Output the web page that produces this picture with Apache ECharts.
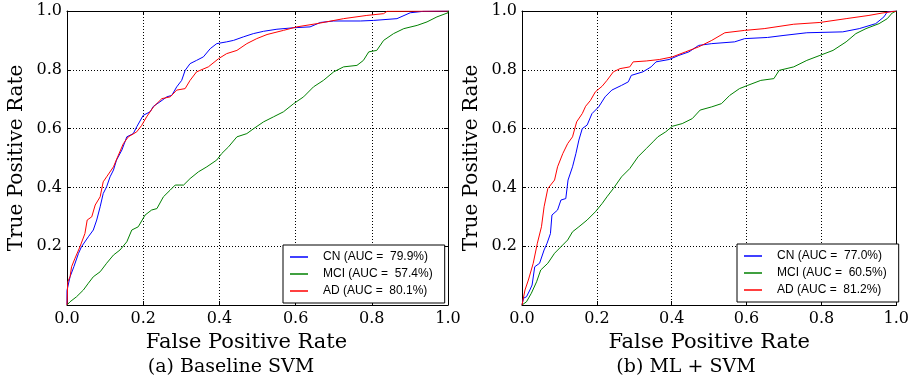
<!DOCTYPE html>
<html><head><meta charset="utf-8">
<script src="https://cdn.jsdelivr.net/npm/echarts@6/dist/echarts.min.js"></script>
<style>html,body{margin:0;padding:0;background:#fff}#c{width:912px;height:384px}</style>
</head><body><div id="c"></div>
<script>
// ---- Data ----
var tickValues = [0, 0.2, 0.4, 0.6, 0.8, 1.0];
var captions = ['(a) Baseline SVM', '(b) ML + SVM'];
var classNames = ['CN', 'MCI', 'AD'];
var aucA = ['79.9%', '57.4%', '80.1%'];
var aucB = ['77.0%', '60.5%', '81.2%'];

// Panel (a) Baseline SVM
var aCnFpr = [0,0,0.008,0.018,0.03,0.038,0.056,0.069,0.078,0.087,0.095,0.104,0.113,0.122,0.13,0.144,0.157,0.174,0.183,0.2,0.218,0.227,0.244,0.262,0.275,0.288,0.301,0.31,0.323,0.34,0.358,0.376,0.393,0.419,0.437,0.463,0.489,0.516,0.551,0.595,0.638,0.665,0.7,0.77,0.805,0.866,0.901,0.936,1.0];
var aCnTpr = [0,0.05,0.096,0.13,0.175,0.198,0.232,0.255,0.289,0.334,0.379,0.402,0.436,0.459,0.493,0.527,0.572,0.583,0.606,0.645,0.657,0.676,0.691,0.708,0.713,0.742,0.764,0.798,0.821,0.832,0.844,0.872,0.889,0.895,0.9,0.912,0.923,0.931,0.938,0.943,0.946,0.961,0.966,0.966,0.968,0.974,0.994,0.999,1.0];
var aMciFpr = [0,0.008,0.025,0.043,0.056,0.069,0.087,0.104,0.122,0.139,0.157,0.17,0.187,0.205,0.222,0.236,0.253,0.271,0.284,0.306,0.323,0.345,0.367,0.393,0.406,0.424,0.446,0.472,0.49,0.516,0.542,0.568,0.595,0.621,0.647,0.673,0.7,0.726,0.761,0.778,0.792,0.813,0.831,0.857,0.884,0.919,0.945,0.971,1.0,1.0];
var aMciTpr = [0,0.011,0.028,0.051,0.074,0.096,0.113,0.142,0.17,0.187,0.215,0.255,0.266,0.306,0.323,0.328,0.368,0.391,0.408,0.408,0.43,0.453,0.47,0.493,0.515,0.538,0.572,0.583,0.6,0.623,0.64,0.657,0.685,0.708,0.742,0.764,0.793,0.81,0.815,0.832,0.861,0.866,0.9,0.923,0.94,0.951,0.963,0.98,0.994,1.0];
var aAdFpr = [0,0.002,0.008,0.012,0.021,0.034,0.047,0.053,0.065,0.074,0.087,0.095,0.104,0.122,0.135,0.148,0.161,0.183,0.196,0.209,0.227,0.249,0.271,0.288,0.31,0.323,0.34,0.371,0.398,0.419,0.446,0.472,0.498,0.525,0.568,0.603,0.656,0.726,0.787,0.831,0.84,1.0];
var aAdTpr = [0,0.079,0.096,0.13,0.159,0.198,0.243,0.289,0.3,0.34,0.368,0.419,0.436,0.47,0.51,0.549,0.572,0.589,0.611,0.64,0.674,0.702,0.708,0.731,0.736,0.764,0.793,0.81,0.838,0.855,0.866,0.889,0.906,0.92,0.934,0.946,0.957,0.974,0.985,0.991,0.999,1.0];

// Panel (b) ML + SVM
var bCnFpr = [0,0.004,0.012,0.021,0.027,0.034,0.047,0.059,0.067,0.076,0.08,0.095,0.104,0.117,0.123,0.135,0.144,0.152,0.161,0.174,0.187,0.205,0.222,0.24,0.266,0.284,0.292,0.323,0.345,0.358,0.393,0.419,0.446,0.472,0.507,0.568,0.595,0.656,0.7,0.761,0.857,0.901,0.945,0.967,0.976,1.0];
var bCnTpr = [0,0.023,0.028,0.051,0.068,0.13,0.142,0.187,0.21,0.243,0.306,0.323,0.357,0.362,0.425,0.47,0.515,0.561,0.6,0.612,0.651,0.674,0.708,0.731,0.747,0.759,0.781,0.793,0.81,0.827,0.835,0.849,0.861,0.883,0.889,0.895,0.906,0.91,0.917,0.926,0.929,0.94,0.957,0.98,0.997,1.0];
var bMciFpr = [0,0.012,0.025,0.039,0.05,0.069,0.087,0.104,0.122,0.135,0.152,0.174,0.196,0.214,0.227,0.244,0.266,0.288,0.31,0.332,0.35,0.363,0.384,0.402,0.428,0.455,0.476,0.507,0.533,0.555,0.581,0.603,0.638,0.673,0.687,0.726,0.761,0.796,0.831,0.866,0.892,0.919,0.954,0.976,0.989,1.0];
var bMciTpr = [0,0.011,0.04,0.079,0.119,0.142,0.176,0.198,0.221,0.249,0.266,0.289,0.317,0.345,0.368,0.396,0.436,0.464,0.504,0.532,0.555,0.572,0.589,0.608,0.617,0.634,0.663,0.674,0.685,0.713,0.736,0.747,0.764,0.77,0.798,0.81,0.832,0.849,0.866,0.895,0.923,0.94,0.957,0.974,0.993,1.0];
var bAdFpr = [0,0.008,0.017,0.03,0.041,0.052,0.059,0.069,0.087,0.095,0.109,0.122,0.135,0.146,0.161,0.17,0.183,0.196,0.214,0.227,0.244,0.262,0.288,0.297,0.332,0.367,0.402,0.437,0.472,0.507,0.542,0.595,0.647,0.726,0.796,0.866,0.927,0.962,1.0];
var bAdTpr = [0,0.051,0.085,0.142,0.21,0.266,0.334,0.396,0.425,0.47,0.515,0.549,0.572,0.623,0.651,0.676,0.696,0.725,0.744,0.764,0.793,0.804,0.81,0.827,0.83,0.835,0.844,0.861,0.878,0.9,0.926,0.934,0.94,0.955,0.961,0.974,0.985,0.993,1.0];

var colors = ['#0000ff', '#008000', '#ff0000'];

function pairs(xs, ys) { return xs.map(function (x, i) { return [x, ys[i]]; }); }
function label(n, auc) { return n + ' (AUC =  ' + auc + ')'; }

var serifFont = 'DejaVu Serif';
var sansFont = 'Liberation Sans';

var grids = [
  { left: 67, top: 11, width: 381, height: 294 },
  { left: 522, top: 11, width: 381, height: 294 }
];

function mainX(gi) {
  return {
    type: 'value', gridIndex: gi, min: 0, max: 1, interval: 0.2,
    name: 'False Positive Rate', nameLocation: 'middle', nameGap: 22,
    nameTextStyle: { fontFamily: serifFont, fontSize: 21, color: '#000', verticalAlign: 'top',
      padding: gi === 0 ? [0, 22, 0, 0] : 0 },
    axisLine: { show: true, onZero: false, lineStyle: { color: '#000', width: 1 } },
    axisTick: { show: true, inside: true, length: 4, lineStyle: { color: '#000' } },
    axisLabel: { show: true, margin: 6, fontFamily: serifFont, fontSize: 16, color: '#000',
      formatter: function (v) { return v.toFixed(1); } },
    splitLine: { show: true, lineStyle: { color: '#000', type: [1, 2], width: 1 } }
  };
}
function mainY(gi) {
  return {
    type: 'value', gridIndex: gi, min: 0, max: 1, interval: 0.2,
    name: 'True Positive Rate', nameLocation: 'middle', nameGap: 40,
    nameTextStyle: { fontFamily: serifFont, fontSize: 20, color: '#000', padding: [0, 0, 0, 0] },
    axisLine: { show: true, onZero: false, lineStyle: { color: '#000', width: 1 } },
    axisTick: { show: true, inside: true, length: 4, lineStyle: { color: '#000' } },
    axisLabel: { show: true, margin: 5, fontFamily: serifFont, fontSize: 16, color: '#000',
      formatter: function (v) { return v === 0 ? '' : v.toFixed(1); } },
    splitLine: { show: true, lineStyle: { color: '#000', type: [1, 2], width: 1 } }
  };
}
function frameAxis(gi, pos) {
  return {
    type: 'value', gridIndex: gi, min: 0, max: 1, interval: 0.2, position: pos,
    axisLine: { show: true, onZero: false, lineStyle: { color: '#000', width: 1 } },
    axisTick: { show: true, inside: true, length: 4, lineStyle: { color: '#000' } },
    axisLabel: { show: false }, splitLine: { show: false }
  };
}

var panels = [
  { fpr: [aCnFpr, aMciFpr, aAdFpr], tpr: [aCnTpr, aMciTpr, aAdTpr], auc: aucA },
  { fpr: [bCnFpr, bMciFpr, bAdFpr], tpr: [bCnTpr, bMciTpr, bAdTpr], auc: aucB }
];

var series = [];
var legends = [];
panels.forEach(function (p, gi) {
  var names = [];
  classNames.forEach(function (c, k) {
    var nm = label(c, p.auc[k]);
    names.push(nm);
    series.push({
      type: 'line', name: nm, xAxisIndex: gi, yAxisIndex: gi,
      data: pairs(p.fpr[k], p.tpr[k]),
      symbol: 'none', showSymbol: false, animation: false,
      lineStyle: { color: colors[k], width: 1 }, itemStyle: { color: colors[k] },
      z: 3
    });
  });
  legends.push({
    data: names.map(function (n) { return { name: n, icon: 'rect' }; }),
    orient: 'vertical',
    left: gi === 0 ? 283 : 737, top: gi === 0 ? 245 : 244,
    itemWidth: 18, itemHeight: 1.5, itemGap: 5,
    padding: [6, 12, 6, 7],
    borderColor: '#000', borderWidth: 1, backgroundColor: '#fff',
    formatter: function (n) { return '   ' + n; },
    textStyle: { fontFamily: sansFont, fontSize: 12, color: '#000' },
    selectedMode: false
  });
});

var option = {
  animation: false,
  backgroundColor: '#fff',
  grid: grids,
  xAxis: [mainX(0), mainX(1), frameAxis(0, 'top'), frameAxis(1, 'top')],
  yAxis: [mainY(0), mainY(1), frameAxis(0, 'right'), frameAxis(1, 'right')],
  legend: legends,
  series: series,
  graphic: [
    { type: 'text', x: 231, y: 358, style: { text: captions[0], textAlign: 'center', fontFamily: serifFont, fontSize: 19, fill: '#000' } },
    { type: 'text', x: 686, y: 358, style: { text: captions[1], textAlign: 'center', fontFamily: serifFont, fontSize: 19, fill: '#000' } }
  ]
};

var chart = echarts.init(document.getElementById('c'), null, { renderer: 'canvas' });
chart.setOption(option);
</script>
</body></html>
